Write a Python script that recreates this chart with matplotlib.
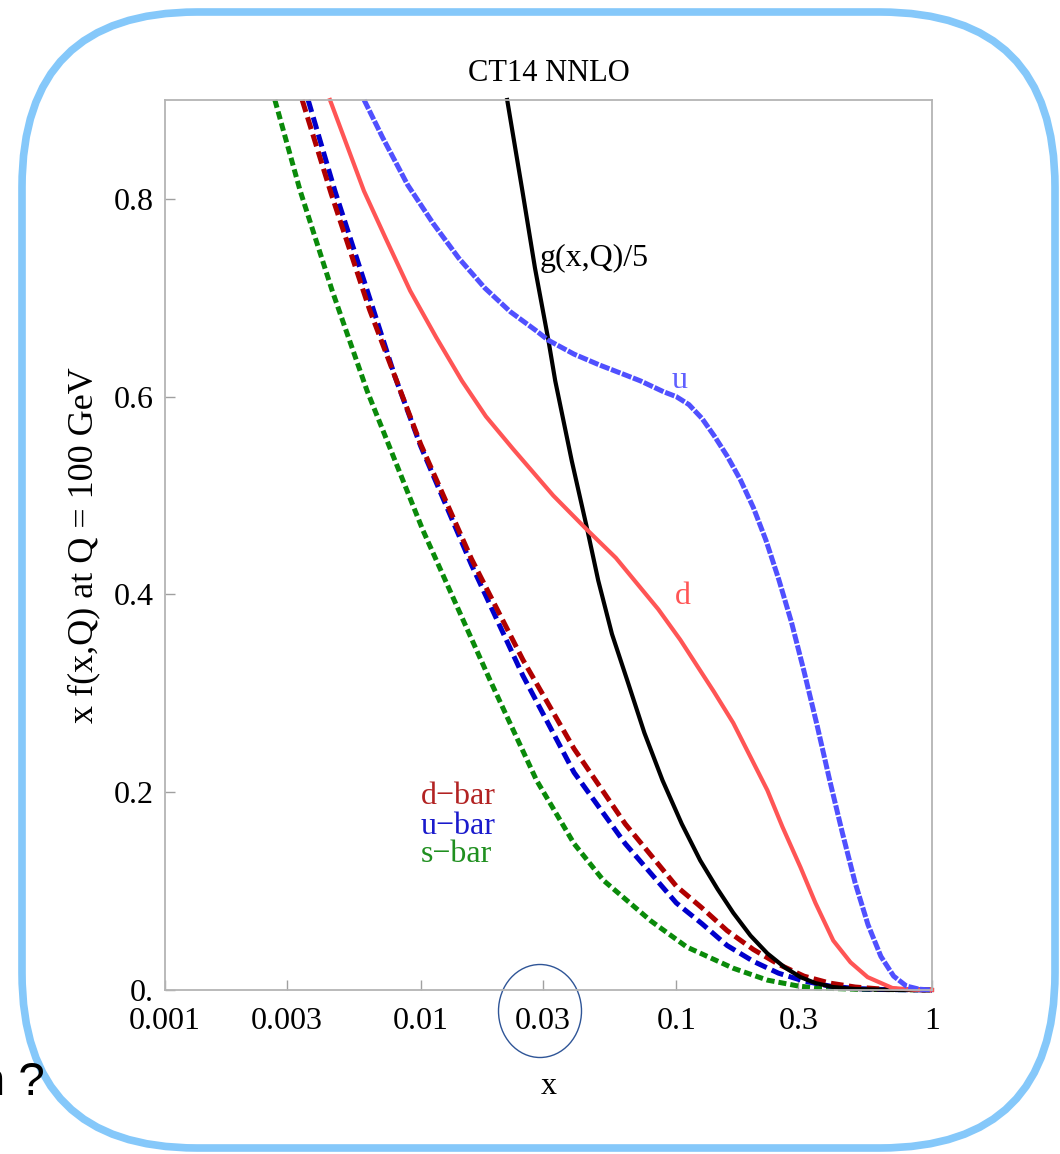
import numpy as np
import matplotlib
matplotlib.use("Agg")
import matplotlib.pyplot as plt
from matplotlib.patches import FancyBboxPatch, Ellipse

plt.rcParams['font.family'] = ['Liberation Serif', 'DejaVu Serif']

# values (x, x*f(x,Q) at Q = 100 GeV)
u_x = [0.00601, 0.0071, 0.0089, 0.0112, 0.0141, 0.0178, 0.0224, 0.0282, 0.0316, 0.0398,
       0.0501, 0.0631, 0.0723, 0.0891, 0.1, 0.112, 0.126, 0.141, 0.158, 0.178,
       0.2, 0.224, 0.251, 0.282, 0.316, 0.355, 0.398, 0.447, 0.501, 0.562,
       0.631, 0.708, 0.794, 0.891, 1.0]
u_y = [0.900, 0.862, 0.814, 0.775, 0.740, 0.710, 0.686, 0.667, 0.657, 0.643,
       0.632, 0.622, 0.616, 0.605, 0.600, 0.592, 0.578, 0.560, 0.540, 0.516,
       0.488, 0.455, 0.416, 0.372, 0.322, 0.268, 0.212, 0.158, 0.108, 0.066,
       0.034, 0.014, 0.004, 0.0008, 0.0]

d_x = [0.00442, 0.006, 0.0073, 0.0091, 0.0115, 0.0145, 0.018, 0.023, 0.033, 0.0449,
       0.058, 0.0723, 0.085, 0.1037, 0.124, 0.14, 0.167, 0.227, 0.26, 0.306,
       0.35, 0.411, 0.48, 0.56, 0.7, 0.85, 1.0]
d_y = [0.9, 0.808, 0.76, 0.707, 0.66, 0.616, 0.58, 0.547, 0.50, 0.465,
       0.437, 0.407, 0.385, 0.354, 0.323, 0.302, 0.27, 0.202, 0.165, 0.124,
       0.088, 0.05, 0.028, 0.013, 0.002, 0.0003, 0.0]

g_x = [0.0218, 0.025, 0.028, 0.0316, 0.0336, 0.039, 0.0449, 0.0495, 0.056, 0.0643,
       0.075, 0.0883, 0.105, 0.124, 0.145, 0.167, 0.195, 0.227, 0.265, 0.306,
       0.35, 0.41, 0.5, 0.7, 1.0]
g_y = [0.9, 0.808, 0.73, 0.657, 0.616, 0.535, 0.465, 0.414, 0.36, 0.313,
       0.26, 0.212, 0.168, 0.131, 0.102, 0.078, 0.055, 0.037, 0.023, 0.013,
       0.007, 0.003, 0.001, 0.0001, 0.0]

dbar_x = [0.00344, 0.00447, 0.00631, 0.01, 0.0158, 0.0251, 0.0398, 0.0631, 0.1, 0.126,
          0.158, 0.2, 0.251, 0.316, 0.398, 0.501, 0.631, 1.0]
dbar_y = [0.9, 0.805, 0.688, 0.552, 0.436, 0.334, 0.244, 0.168, 0.105, 0.083,
          0.06, 0.041, 0.026, 0.014, 0.007, 0.003, 0.001, 0.0]

ubar_x = [0.00363, 0.00462, 0.00631, 0.00794, 0.01, 0.0158, 0.0251, 0.0398, 0.0631, 0.1,
          0.126, 0.158, 0.2, 0.251, 0.316, 0.398, 0.501, 0.631, 1.0]
ubar_y = [0.9, 0.808, 0.70, 0.62, 0.55, 0.43, 0.318, 0.22, 0.148, 0.088,
          0.067, 0.045, 0.029, 0.017, 0.009, 0.004, 0.0015, 0.0005, 0.0]

sbar_x = [0.00269, 0.00338, 0.00451, 0.00617, 0.0102, 0.0187, 0.0284, 0.0398, 0.0518, 0.0794,
          0.11, 0.167, 0.227, 0.3, 0.355, 0.5, 1.0]
sbar_y = [0.9, 0.808, 0.707, 0.606, 0.465, 0.313, 0.212, 0.148, 0.111, 0.07,
          0.0434, 0.022, 0.01, 0.004, 0.002, 0.0008, 0.0]

x_ticks = [0.001, 0.003, 0.01, 0.03, 0.1, 0.3, 1]
x_ticklabels = ["0.001", "0.003", "0.01", "0.03", "0.1", "0.3", "1"]
y_ticks = [0.0, 0.2, 0.4, 0.6, 0.8]
y_ticklabels = ["0.", "0.2", "0.4", "0.6", "0.8"]

fig = plt.figure(figsize=(10.6, 11.54), dpi=100)

# overlay in pixel units for the slide decorations
deco = fig.add_axes([0, 0, 1, 1], zorder=-1)
deco.set_xlim(0, 1060)
deco.set_ylim(1154, 0)
deco.axis("off")
deco.add_patch(FancyBboxPatch((22, 12), 1033, 1136,
                              boxstyle="round,pad=0,rounding_size=175",
                              fill=False, edgecolor="#85c8fa", linewidth=5.5))
deco.add_patch(Ellipse((540, 1011), 83, 93, fill=False,
                       edgecolor="#2f5597", linewidth=1.0))

ax = fig.add_axes([165/1060, 1 - 990/1154, 767/1060, 890/1154])
ax.patch.set_alpha(0)

ax.plot(sbar_x, sbar_y, color="#0a8a0a", lw=3.6, dashes=(1.6, 0.8), clip_on=False)
ax.plot(ubar_x, ubar_y, color="#0000cc", lw=3.6, dashes=(2.5, 1.1), clip_on=False)
ax.plot(dbar_x, dbar_y, color="#b00000", lw=3.6, dashes=(2.5, 1.1), clip_on=False)
ax.plot(g_x, g_y, color="black", lw=3.0, clip_on=False)
ax.plot(d_x, d_y, color="#ff5555", lw=3.0, clip_on=False)
ax.plot(u_x, u_y, color="#5050ff", lw=3.6, dashes=(2.0, 0.35), clip_on=False)

ax.set_xscale("log")
ax.set_xlim(0.001, 1)
ax.set_ylim(0, 0.9)
ax.set_xticks(x_ticks)
ax.set_xticklabels(x_ticklabels)
ax.xaxis.set_minor_locator(matplotlib.ticker.NullLocator())
ax.set_yticks(y_ticks)
ax.set_yticklabels(y_ticklabels)
ax.tick_params(direction="in", length=7, width=1, color="#a0a0a0",
               labelsize=23, pad=8)
ax.tick_params(axis="x", pad=12)
for sp in ax.spines.values():
    sp.set_color("#b4b4b4")
    sp.set_linewidth(1.3)

ax.set_title("CT14 NNLO", fontsize=22, pad=14)
ax.set_xlabel("x", fontsize=23, labelpad=26)
ax.set_ylabel("x f(x,Q) at Q = 100 GeV", fontsize=26, labelpad=10)

# curve labels
ax.text(540/1060, 1 - 258/1154, "g(x,Q)/5", transform=fig.transFigure,
        fontsize=23, color="black", va="center")
ax.text(672/1060, 1 - 380/1154, "u", transform=fig.transFigure,
        fontsize=23, color="#6060ff", va="center")
ax.text(675/1060, 1 - 597/1154, "d", transform=fig.transFigure,
        fontsize=23, color="#ff5555", va="center")
ax.text(421/1060, 1 - 797/1154, "d\u2212bar", transform=fig.transFigure,
        fontsize=23, color="#b22222", va="center")
ax.text(421/1060, 1 - 826/1154, "u\u2212bar", transform=fig.transFigure,
        fontsize=23, color="#1a1acc", va="center")
ax.text(421/1060, 1 - 855/1154, "s\u2212bar", transform=fig.transFigure,
        fontsize=23, color="#1f8f1f", va="center")

# leftover text from the slide
fig.text(45/1060, 1 - 1095/1154, "n ?", fontsize=34, ha="right", va="baseline",
         family=["Liberation Sans", "DejaVu Sans"])

fig.savefig("out.png", dpi=100)
